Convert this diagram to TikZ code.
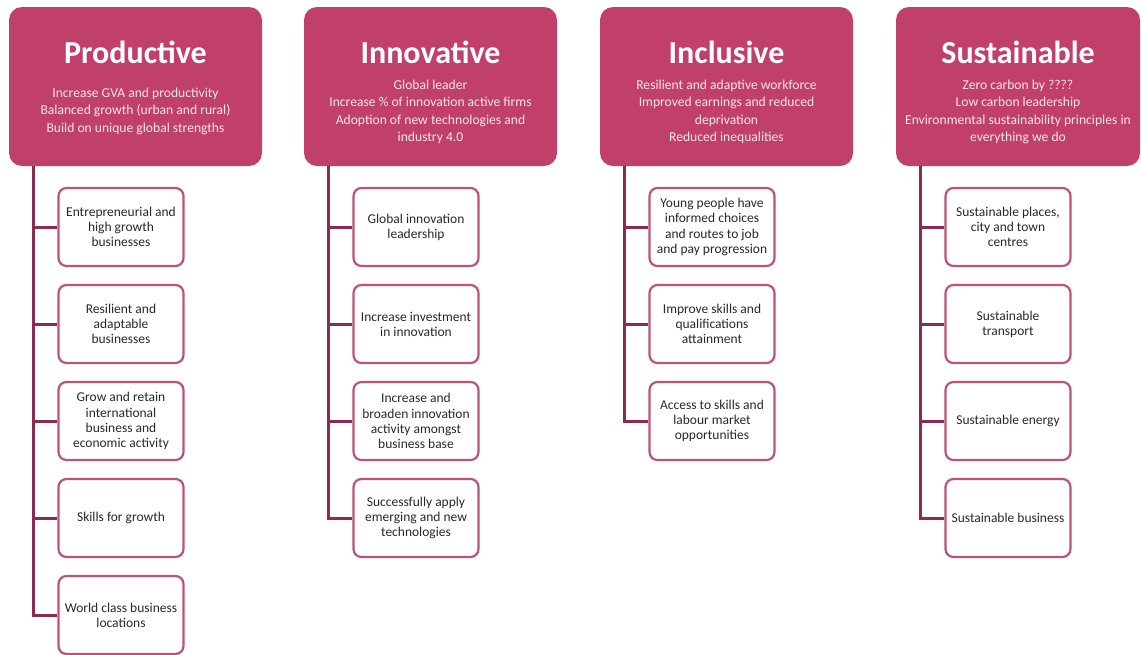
\documentclass[tikz,border=0pt]{standalone}
\usepackage{fontspec}
\setmainfont{Carlito}
\usepackage{tikz}

\definecolor{raspberry}{RGB}{193,64,106}
\definecolor{trunkred}{RGB}{140,42,84}
\definecolor{leafedge}{RGB}{190,82,122}
\definecolor{leaftext}{RGB}{40,40,40}
\definecolor{subwhite}{RGB}{250,228,236}

\begin{document}
\begin{tikzpicture}[x=1pt, y=-1pt,
    header/.style={rectangle, rounded corners=13pt, fill=raspberry, minimum height=159pt, inner sep=0pt},
    title/.style={anchor=base, text=white, font=\fontsize{32}{36}\selectfont\bfseries},
    aims/.style={align=center, text=subwhite, font=\fontsize{13.6}{17.5}\selectfont, inner sep=0pt},
    leaf/.style={rectangle, rounded corners=8pt, draw=leafedge, line width=2.2pt, fill=white, minimum width=125pt, minimum height=78pt, align=center, text=leaftext, font=\fontsize{13.5}{15.2}\selectfont, inner sep=2pt},
    trunk/.style={draw=trunkred, line width=3pt}]
      \useasboundingbox (0,0) rectangle (1141,654);

      % headers
      \node[header, minimum width=253pt] (prod) at (135.5, 86.5) {};
      \node[header, minimum width=253pt] (innov) at (430.5, 86.5) {};
      \node[header, minimum width=253pt] (incl) at (726.5, 86.5) {};
      \node[header, minimum width=244pt] (sust) at (1018, 86.5) {};

      \node[title] (prodt) at (135.5, 63) {Productive};
      \node[title] (innovt) at (430.5, 63) {Innovative};
      \node[title] (inclt) at (726.5, 63) {Inclusive};
      \node[title] (sustt) at (1018, 63) {Sustainable};

      \node[aims] (proda) at (135.5, 111) {Increase GVA and productivity\\Balanced growth (urban and rural)\\Build on unique global strengths};
      \node[aims] (innova) at (430.5, 112) {Global leader\\Increase \% of innovation active firms\\Adoption of new technologies and\\industry 4.0};
      \node[aims] (incla) at (726.5, 112) {Resilient and adaptive workforce\\Improved earnings and reduced\\deprivation\\Reduced inequalities};
      \node[aims] (susta) at (1018, 112) {Zero carbon by ????\\Low carbon leadership\\Environmental sustainability principles in\\everything we do};

      % productive column
      \node[leaf] (p1) at (121, 227) {Entrepreneurial and\\high growth\\businesses};
      \node[leaf] (p2) at (121, 324) {Resilient and\\adaptable\\businesses};
      \node[leaf] (p3) at (121, 421) {Grow and retain\\international\\business and\\economic activity};
      \node[leaf] (p4) at (121, 518) {Skills for growth};
      \node[leaf] (p5) at (121, 615) {World class business\\locations};

      % innovative column
      \node[leaf] (n1) at (416, 227) {Global innovation\\leadership};
      \node[leaf] (n2) at (416, 324) {Increase investment\\in innovation};
      \node[leaf] (n3) at (416, 421) {Increase and\\broaden innovation\\activity amongst\\business base};
      \node[leaf] (n4) at (416, 518) {Successfully apply\\emerging and new\\technologies};

      % inclusive column
      \node[leaf] (c1) at (712, 227) {Young people have\\informed choices\\and routes to job\\and pay progression};
      \node[leaf] (c2) at (712, 324) {Improve skills and\\qualifications\\attainment};
      \node[leaf] (c3) at (712, 421) {Access to skills and\\labour market\\opportunities};

      % sustainable column
      \node[leaf] (s1) at (1008, 227) {Sustainable places,\\city and town\\centres};
      \node[leaf] (s2) at (1008, 324) {Sustainable\\transport};
      \node[leaf] (s3) at (1008, 421) {Sustainable energy};
      \node[leaf] (s4) at (1008, 518) {Sustainable business};

      % trunks
      \coordinate (pt) at (33, 166);
      \coordinate (nt) at (328, 166);
      \coordinate (ct) at (624, 166);
      \coordinate (st) at (920, 166);

      \draw[trunk] (pt) |- (p5.west);
      \draw[trunk] (pt |- p1.west) -- (p1.west);
      \draw[trunk] (pt |- p2.west) -- (p2.west);
      \draw[trunk] (pt |- p3.west) -- (p3.west);
      \draw[trunk] (pt |- p4.west) -- (p4.west);

      \draw[trunk] (nt) |- (n4.west);
      \draw[trunk] (nt |- n1.west) -- (n1.west);
      \draw[trunk] (nt |- n2.west) -- (n2.west);
      \draw[trunk] (nt |- n3.west) -- (n3.west);

      \draw[trunk] (ct) |- (c3.west);
      \draw[trunk] (ct |- c1.west) -- (c1.west);
      \draw[trunk] (ct |- c2.west) -- (c2.west);

      \draw[trunk] (st) |- (s4.west);
      \draw[trunk] (st |- s1.west) -- (s1.west);
      \draw[trunk] (st |- s2.west) -- (s2.west);
      \draw[trunk] (st |- s3.west) -- (s3.west);
    \end{tikzpicture}
\end{document}
